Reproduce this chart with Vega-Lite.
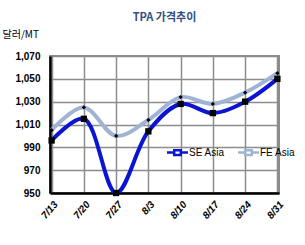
{
  "$schema": "https://vega.github.io/schema/vega-lite/v6.json",
  "autosize": "none",
  "width": 229,
  "height": 137,
  "padding": {"left": 50, "top": 56, "right": 26, "bottom": 52},
  "background": "white",
  "title": {
    "text": "TPA 가격추이",
    "anchor": "middle",
    "frame": "group",
    "offset": 6,
    "font": "Noto Sans CJK KR",
    "fontSize": 11,
    "fontWeight": "bold",
    "color": "#2f4f88"
  },
  "config": {
    "view": {"stroke": "#8c8c8c", "strokeWidth": 2},
    "font": "Liberation Sans"
  },
  "data": {
    "values": [
      {"date": "7/13", "series": "FE Asia", "price": 1005},
      {"date": "7/20", "series": "FE Asia", "price": 1025},
      {"date": "7/27", "series": "FE Asia", "price": 1000},
      {"date": "8/3", "series": "FE Asia", "price": 1014},
      {"date": "8/10", "series": "FE Asia", "price": 1034},
      {"date": "8/17", "series": "FE Asia", "price": 1028},
      {"date": "8/24", "series": "FE Asia", "price": 1038},
      {"date": "8/31", "series": "FE Asia", "price": 1055},
      {"date": "7/13", "series": "SE Asia", "price": 996},
      {"date": "7/20", "series": "SE Asia", "price": 1015},
      {"date": "7/27", "series": "SE Asia", "price": 950},
      {"date": "8/3", "series": "SE Asia", "price": 1004},
      {"date": "8/10", "series": "SE Asia", "price": 1028},
      {"date": "8/17", "series": "SE Asia", "price": 1020},
      {"date": "8/24", "series": "SE Asia", "price": 1030},
      {"date": "8/31", "series": "SE Asia", "price": 1050}
    ]
  },
  "encoding": {
    "x": {
      "field": "date",
      "type": "ordinal",
      "sort": null,
      "scale": {"type": "point", "padding": 0.05},
      "axis": {
        "title": null,
        "labelAngle": -50,
        "labelAlign": "right",
        "labelBaseline": "top",
        "labelPadding": 6,
        "labelFont": "Liberation Sans",
        "labelFontSize": 10,
        "labelFontWeight": "bold",
        "labelFontStyle": "italic",
        "labelColor": "black",
        "grid": true,
        "gridColor": "#8c8c8c",
        "gridWidth": 1.5,
        "ticks": false,
        "domainColor": "black",
        "domainWidth": 2.5
      }
    },
    "y": {
      "field": "price",
      "type": "quantitative",
      "scale": {"domain": [950, 1070], "nice": false, "zero": false},
      "axis": {
        "values": [950, 970, 990, 1010, 1030, 1050, 1070],
        "format": ",d",
        "title": "달러/MT",
        "titleAngle": 0,
        "titleAlign": "left",
        "titleBaseline": "middle",
        "titleX": -48,
        "titleY": -22,
        "titleFont": "Noto Sans CJK KR",
        "titleFontSize": 10,
        "titleFontWeight": "normal",
        "titleColor": "black",
        "labelFont": "Liberation Sans",
        "labelFontSize": 10,
        "labelFontWeight": "bold",
        "labelColor": "black",
        "labelPadding": 10,
        "ticks": false,
        "grid": true,
        "gridColor": "#8c8c8c",
        "gridWidth": 1.5,
        "domainColor": "black",
        "domainWidth": 2.5
      }
    }
  },
  "layer": [
    {
      "mark": {"type": "line", "interpolate": "catmull-rom", "strokeWidth": 4, "clip": true},
      "encoding": {
        "color": {
          "field": "series",
          "type": "nominal",
          "scale": {"domain": ["SE Asia", "FE Asia"], "range": ["#0a14d2", "#9fb4d4"]},
          "legend": {
            "title": null,
            "orient": "none",
            "legendX": 120,
            "legendY": 89,
            "direction": "horizontal",
            "symbolType": "M-1.75,0H-0.55M0.55,0H1.75M-0.55,-0.4H0.55V0.4H-0.55Z",
            "symbolStrokeWidth": 2.5,
            "symbolFillColor": "white",
            "symbolSize": 144,
            "labelFont": "Liberation Sans",
            "labelFontSize": 10,
            "labelColor": "black",
            "columnPadding": 8,
            "labelOffset": 4
          }
        }
      }
    },
    {
      "transform": [{"filter": "datum.series === 'SE Asia'"}],
      "mark": {"type": "point", "shape": "square", "filled": true, "color": "black", "opacity": 1, "size": 40}
    },
    {
      "transform": [{"filter": "datum.series === 'FE Asia'"}],
      "mark": {"type": "point", "shape": "diamond", "filled": true, "color": "black", "opacity": 1, "size": 18}
    }
  ]
}
